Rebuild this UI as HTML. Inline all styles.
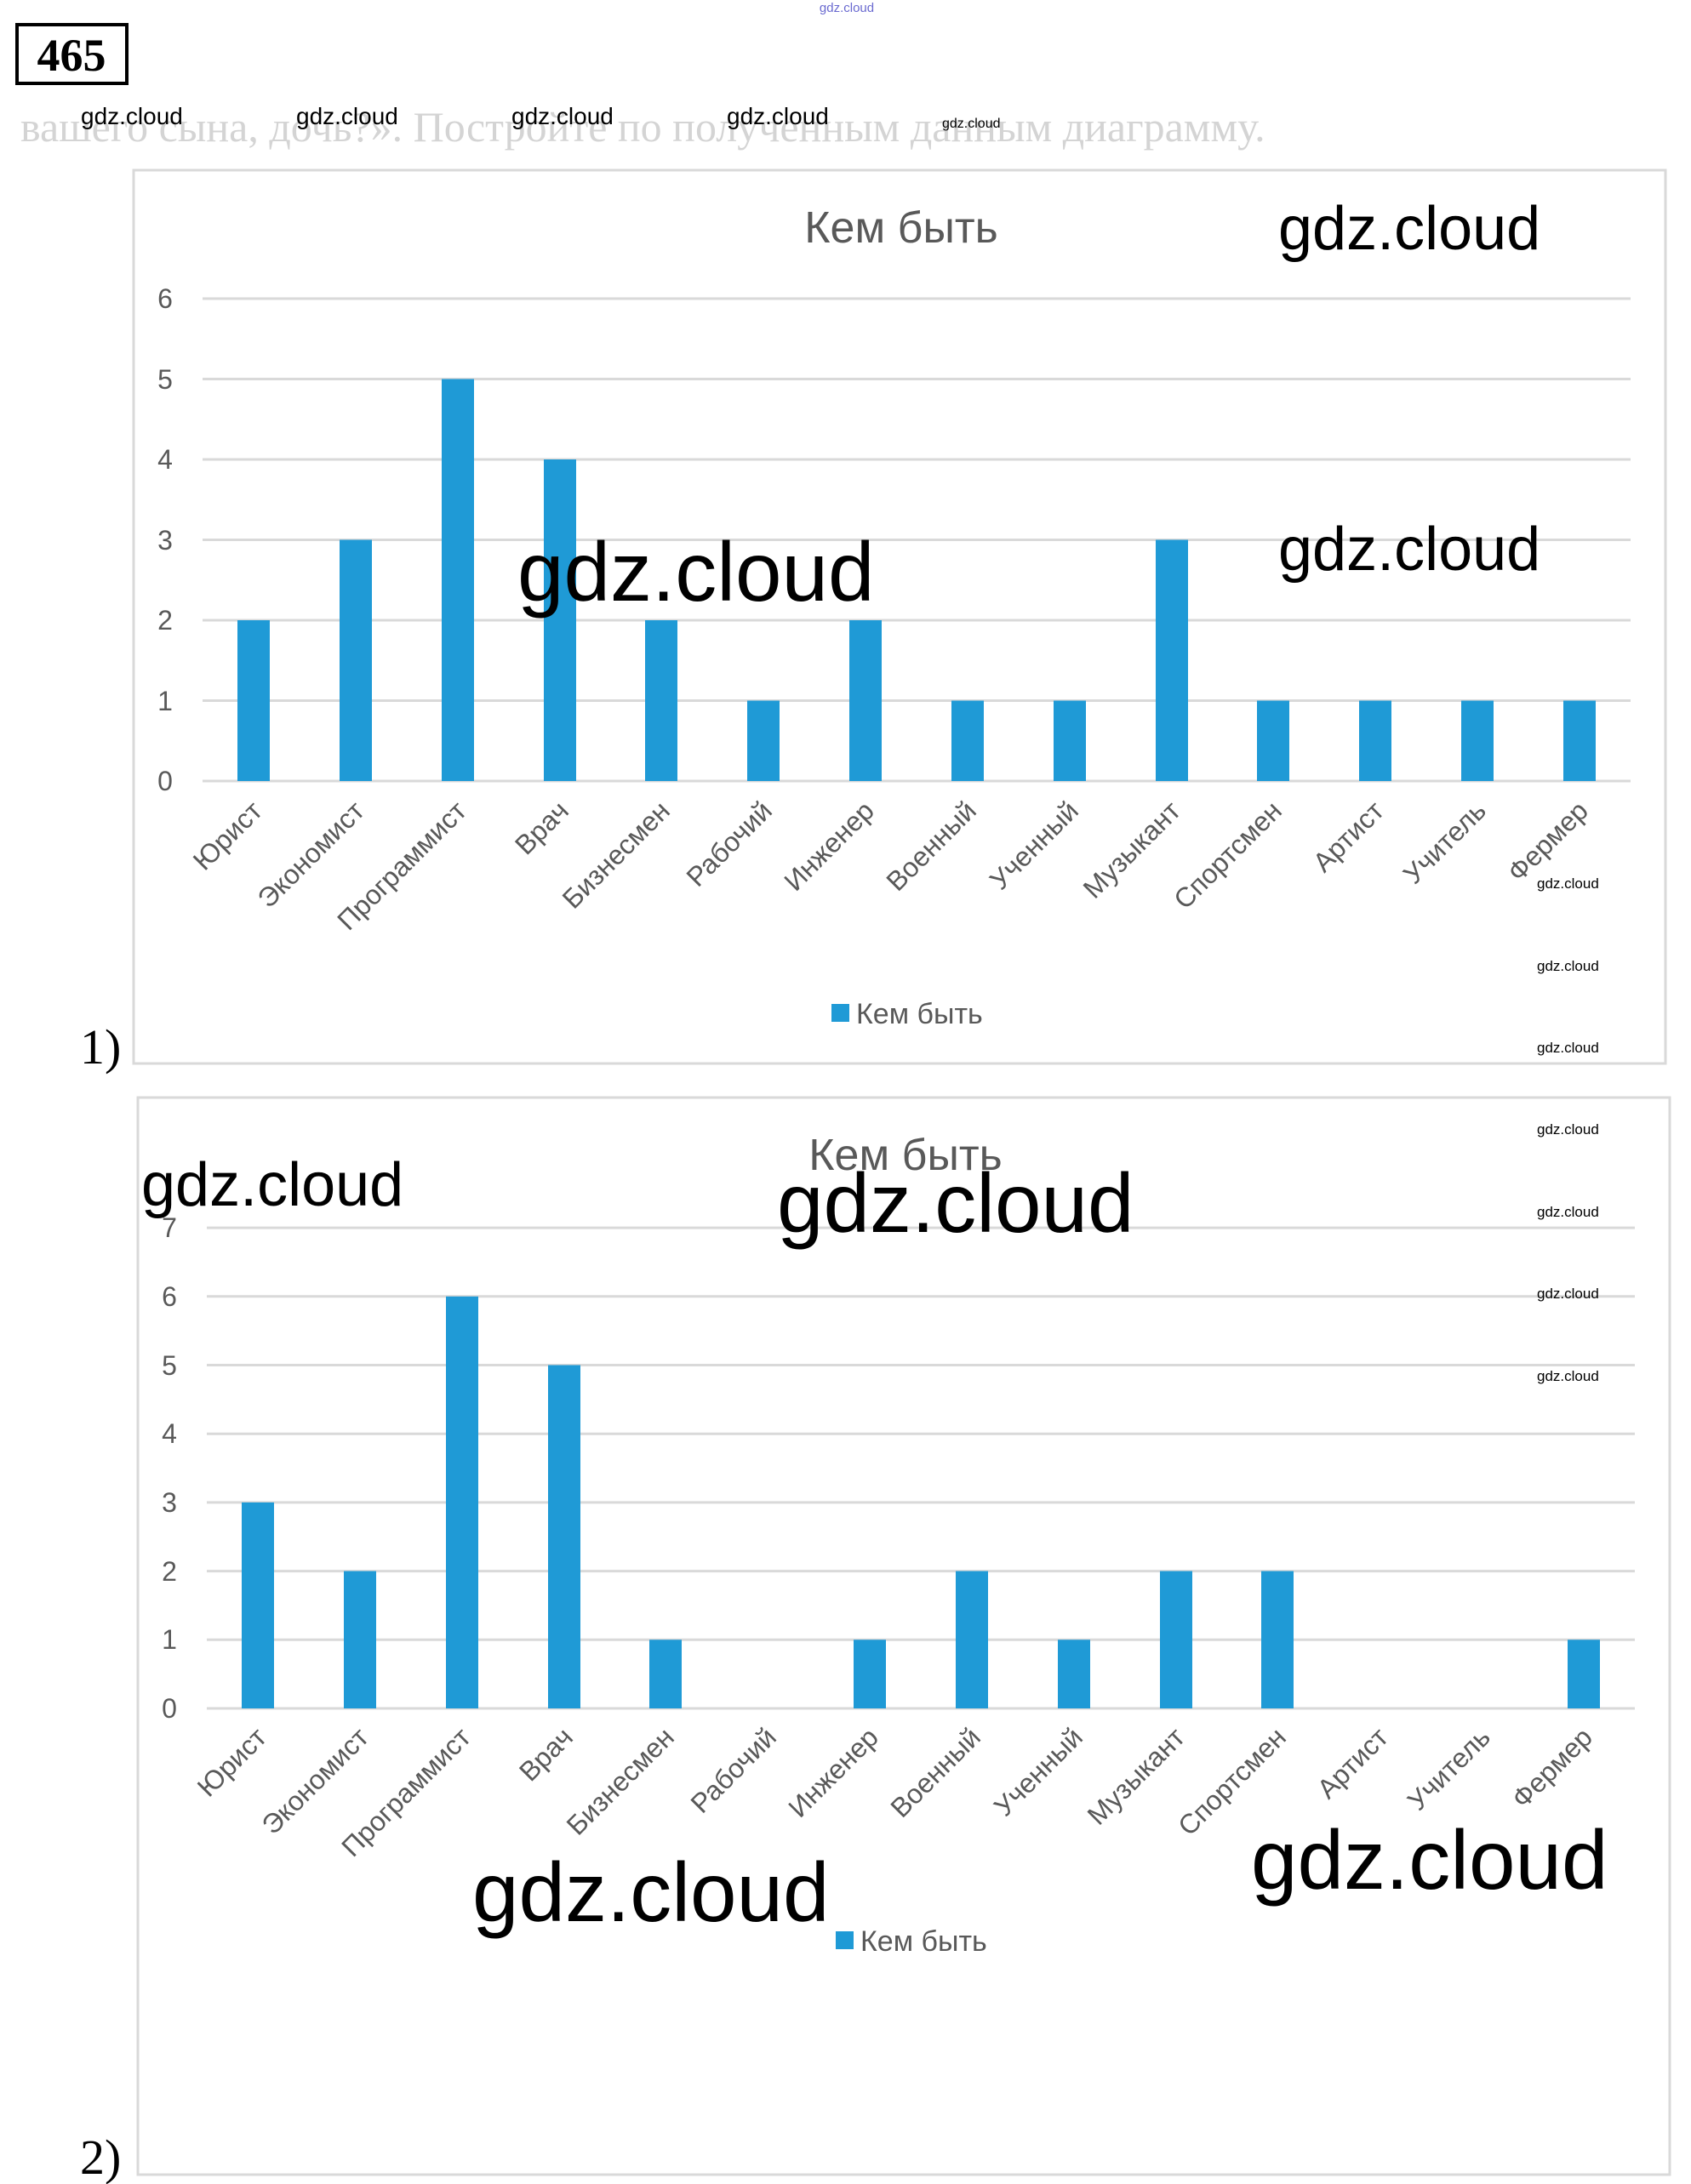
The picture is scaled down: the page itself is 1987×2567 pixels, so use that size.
<!DOCTYPE html>
<html><head><meta charset="utf-8"><style>
html,body{margin:0;padding:0;background:#fff;}
body{width:1987px;height:2567px;overflow:hidden;position:relative;}
svg{position:absolute;left:0;top:0;}
</style></head><body>
<svg width="1987" height="2567" viewBox="0 0 1987 2567" xmlns="http://www.w3.org/2000/svg" font-family="Liberation Sans, DejaVu Sans, sans-serif">
<!-- header -->
<rect x="20" y="29" width="129" height="69" fill="none" stroke="#000" stroke-width="4"/>
<text x="84" y="83" font-family="Liberation Serif, serif" font-weight="bold" font-size="54" text-anchor="middle">465</text>
<text x="995" y="14" font-size="15" fill="#6a6ad0" text-anchor="middle">gdz.cloud</text>
<text x="24" y="166" font-family="Liberation Serif, serif" font-size="50" fill="#d4d4d4">вашего сына, дочь?». Постройте по полученным данным диаграмму.</text>
<g font-size="28" fill="#000">
<text x="95" y="146">gdz.cloud</text><text x="348" y="146">gdz.cloud</text><text x="601" y="146">gdz.cloud</text><text x="854" y="146">gdz.cloud</text>
</g>
<text x="1107" y="150" font-size="16">gdz.cloud</text>

<!-- chart 1 -->
<rect x="157" y="200" width="1800" height="1050" fill="none" stroke="#d9d9d9" stroke-width="3"/>
<text x="1059" y="285" font-size="52" fill="#595959" text-anchor="middle">Кем быть</text>
<g stroke="#d9d9d9" stroke-width="3">
<line x1="238" x2="1916" y1="351" y2="351"/><line x1="238" x2="1916" y1="445.5" y2="445.5"/><line x1="238" x2="1916" y1="540" y2="540"/><line x1="238" x2="1916" y1="634.5" y2="634.5"/><line x1="238" x2="1916" y1="729" y2="729"/><line x1="238" x2="1916" y1="823.5" y2="823.5"/><line x1="238" x2="1916" y1="918" y2="918"/>
</g>
<g font-size="32" fill="#595959" text-anchor="middle">
<text x="194" y="362">6</text><text x="194" y="457">5</text><text x="194" y="551">4</text><text x="194" y="646">3</text><text x="194" y="740">2</text><text x="194" y="835">1</text><text x="194" y="929">0</text>
</g>
<g fill="#1f9ad6">
<rect x="279" y="729" width="38" height="189"/>
<rect x="399" y="634.5" width="38" height="283.5"/>
<rect x="519" y="445.5" width="38" height="472.5"/>
<rect x="639" y="540" width="38" height="378"/>
<rect x="758" y="729" width="38" height="189"/>
<rect x="878" y="823.5" width="38" height="94.5"/>
<rect x="998" y="729" width="38" height="189"/>
<rect x="1118" y="823.5" width="38" height="94.5"/>
<rect x="1238" y="823.5" width="38" height="94.5"/>
<rect x="1358" y="634.5" width="38" height="283.5"/>
<rect x="1477" y="823.5" width="38" height="94.5"/>
<rect x="1597" y="823.5" width="38" height="94.5"/>
<rect x="1717" y="823.5" width="38" height="94.5"/>
<rect x="1837" y="823.5" width="38" height="94.5"/>
</g>
<g font-size="32" fill="#595959" text-anchor="end">
<text transform="translate(310,955) rotate(-45)">Юрист</text>
<text transform="translate(430,955) rotate(-45)">Экономист</text>
<text transform="translate(550,955) rotate(-45)">Программист</text>
<text transform="translate(670,955) rotate(-45)">Врач</text>
<text transform="translate(789,955) rotate(-45)">Бизнесмен</text>
<text transform="translate(909,955) rotate(-45)">Рабочий</text>
<text transform="translate(1029,955) rotate(-45)">Инженер</text>
<text transform="translate(1149,955) rotate(-45)">Военный</text>
<text transform="translate(1269,955) rotate(-45)">Ученный</text>
<text transform="translate(1389,955) rotate(-45)">Музыкант</text>
<text transform="translate(1508,955) rotate(-45)">Спортсмен</text>
<text transform="translate(1628,955) rotate(-45)">Артист</text>
<text transform="translate(1748,955) rotate(-45)">Учитель</text>
<text transform="translate(1868,955) rotate(-45)">Фермер</text>
</g>
<rect x="977" y="1180" width="21" height="21" fill="#1f9ad6"/>
<text x="1006" y="1203" font-size="34" fill="#595959">Кем быть</text>
<text x="94" y="1250" font-family="Liberation Serif, serif" font-size="58" fill="#000">1)</text>

<!-- chart 2 -->
<rect x="162" y="1290" width="1800" height="1266" fill="none" stroke="#d9d9d9" stroke-width="3"/>
<text x="1064" y="1375" font-size="52" fill="#595959" text-anchor="middle">Кем быть</text>
<g stroke="#d9d9d9" stroke-width="3">
<line x1="243" x2="1921" y1="1443.1" y2="1443.1"/><line x1="243" x2="1921" y1="1523.8" y2="1523.8"/><line x1="243" x2="1921" y1="1604.5" y2="1604.5"/><line x1="243" x2="1921" y1="1685.2" y2="1685.2"/><line x1="243" x2="1921" y1="1765.9" y2="1765.9"/><line x1="243" x2="1921" y1="1846.6" y2="1846.6"/><line x1="243" x2="1921" y1="1927.3" y2="1927.3"/><line x1="243" x2="1921" y1="2008" y2="2008"/>
</g>
<g font-size="32" fill="#595959" text-anchor="middle">
<text x="199" y="1454">7</text><text x="199" y="1535">6</text><text x="199" y="1616">5</text><text x="199" y="1696">4</text><text x="199" y="1777">3</text><text x="199" y="1858">2</text><text x="199" y="1938">1</text><text x="199" y="2019">0</text>
</g>
<g fill="#1f9ad6">
<rect x="284" y="1765.9" width="38" height="242.1"/>
<rect x="404" y="1846.6" width="38" height="161.4"/>
<rect x="524" y="1523.8" width="38" height="484.2"/>
<rect x="644" y="1604.5" width="38" height="403.5"/>
<rect x="763" y="1927.3" width="38" height="80.7"/>
<rect x="1003" y="1927.3" width="38" height="80.7"/>
<rect x="1123" y="1846.6" width="38" height="161.4"/>
<rect x="1243" y="1927.3" width="38" height="80.7"/>
<rect x="1363" y="1846.6" width="38" height="161.4"/>
<rect x="1482" y="1846.6" width="38" height="161.4"/>
<rect x="1842" y="1927.3" width="38" height="80.7"/>
</g>
<g font-size="32" fill="#595959" text-anchor="end">
<text transform="translate(315,2044) rotate(-45)">Юрист</text>
<text transform="translate(435,2044) rotate(-45)">Экономист</text>
<text transform="translate(555,2044) rotate(-45)">Программист</text>
<text transform="translate(675,2044) rotate(-45)">Врач</text>
<text transform="translate(794,2044) rotate(-45)">Бизнесмен</text>
<text transform="translate(914,2044) rotate(-45)">Рабочий</text>
<text transform="translate(1034,2044) rotate(-45)">Инженер</text>
<text transform="translate(1154,2044) rotate(-45)">Военный</text>
<text transform="translate(1274,2044) rotate(-45)">Ученный</text>
<text transform="translate(1394,2044) rotate(-45)">Музыкант</text>
<text transform="translate(1513,2044) rotate(-45)">Спортсмен</text>
<text transform="translate(1633,2044) rotate(-45)">Артист</text>
<text transform="translate(1753,2044) rotate(-45)">Учитель</text>
<text transform="translate(1873,2044) rotate(-45)">Фермер</text>
</g>
<rect x="982" y="2270" width="21" height="21" fill="#1f9ad6"/>
<text x="1011" y="2293" font-size="34" fill="#595959">Кем быть</text>
<text x="94" y="2555" font-family="Liberation Serif, serif" font-size="58" fill="#000">2)</text>

<!-- watermarks -->
<g font-size="72" fill="#000">
<text x="1502" y="293">gdz.cloud</text>
<text x="1502" y="670">gdz.cloud</text>
<text x="166" y="1417">gdz.cloud</text>
</g>
<g font-size="98" fill="#000">
<text x="608" y="706">gdz.cloud</text>
<text x="913" y="1448">gdz.cloud</text>
<text x="555" y="2258">gdz.cloud</text>
<text x="1470" y="2220">gdz.cloud</text>
</g>
<g font-size="17" fill="#000">
<text x="1806" y="1044">gdz.cloud</text>
<text x="1806" y="1141">gdz.cloud</text>
<text x="1806" y="1237">gdz.cloud</text>
<text x="1806" y="1333">gdz.cloud</text>
<text x="1806" y="1430">gdz.cloud</text>
<text x="1806" y="1526">gdz.cloud</text>
<text x="1806" y="1623">gdz.cloud</text>
</g>
</svg>
</body></html>
